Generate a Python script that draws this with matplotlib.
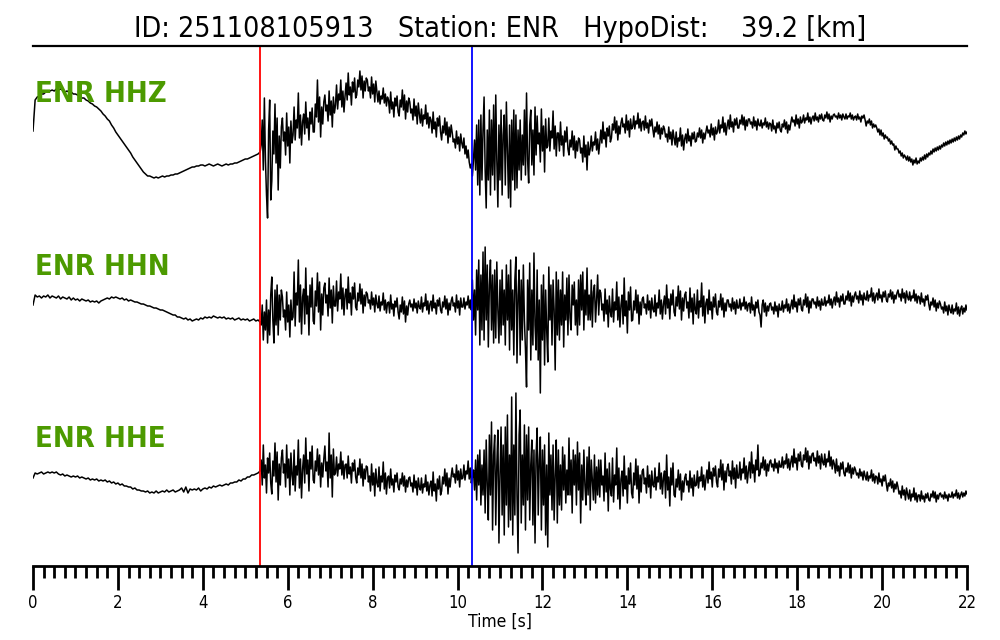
import numpy as np
import matplotlib
matplotlib.use("Agg")
import matplotlib.pyplot as plt
from matplotlib.ticker import MultipleLocator

plt.rcParams["font.family"] = ["DejaVu Sans"]
plt.rcParams["font.stretch"] = "condensed"

# ---------------- data ----------------
event_id = "251108105913"
station = "ENR"
hypo_dist_km = 39.2
channels = ["HHZ", "HHN", "HHE"]
p_pick = 5.35        # P arrival [s]
s_pick = 10.34       # S arrival [s]

# pre-event part: samples every 0.05 s from t = 0
dt_pre = 0.05
# event part: samples every 0.025 s from t = 5.375
t0_post = 5.375
dt_post = 0.025

hhz_pre = [
    9, 40, 43, 44, 46, 46, 48, 48, 49, 50,
    49, 51, 50, 51, 50, 48, 49, 48, 48, 46,
    46, 45, 44, 42, 42, 40, 39, 37, 36, 34,
    33, 31, 29, 26, 24, 21, 19, 15, 12, 8,
    5, 2, -1, -4, -7, -10, -13, -17, -20, -23,
    -26, -29, -32, -34, -36, -36, -37, -38, -37, -38,
    -37, -36, -37, -36, -36, -35, -35, -34, -34, -33,
    -32, -31, -30, -29, -28, -27, -27, -26, -26, -25,
    -25, -26, -25, -24, -25, -26, -25, -24, -25, -26,
    -25, -24, -25, -24, -24, -23, -23, -22, -21, -20,
    -19, -19, -18, -17, -16, -15, -14, -12,
]
hhz_post = [
    -5, 20, -30, 42, -20, -55, -78, 10, 40, -60,
    -41, 9, -14, 36, -23, 22, -50, 4, -28, 13,
    22, -1, 8, -15, 27, -6, 13, -23, 19, -3,
    5, 33, 0, 20, 12, 47, 2, 25, -5, 18,
    26, 6, 38, 12, 22, 0, 28, 16, 32, 8,
    8, 36, 23, 60, 18, 43, 3, 33, 16, 38,
    45, 29, 35, 19, 49, 25, 39, 13, 43, 27,
    35, 55, 31, 46, 40, 60, 33, 49, 28, 44,
    57, 40, 67, 45, 53, 35, 58, 48, 62, 42,
    45, 60, 53, 69, 50, 64, 42, 59, 49, 62,
    60, 49, 53, 42, 63, 46, 56, 38, 59, 48,
    38, 49, 36, 44, 41, 52, 37, 46, 34, 43,
    40, 27, 48, 31, 38, 23, 42, 34, 44, 28,
    24, 40, 33, 50, 30, 45, 21, 39, 28, 42,
    38, 27, 31, 20, 41, 24, 34, 16, 37, 26,
    17, 31, 14, 25, 21, 35, 16, 27, 12, 23,
    20, 7, 28, 11, 18, 3, 22, 14, 24, 8,
    0, 14, 7, 22, 5, 18, -3, 13, 3, 15,
    7, -2, 1, -8, 9, -4, 3, -11, 6, -3,
    -8, 2, -14, -6, -18, -10, -22, -28, -24, -36,
    -20, 0, -30, 15, -45, 20, -55, 25, -40, 10,
    43, -30, -68, 10, -40, 30, -55, 20, -35, 35,
    -50, 45, -20, -67, 15, -40, 30, -55, 5, 25,
    -45, 38, -10, -58, 15, -67, 20, -40, 30, -50,
    25, -48, 10, -30, 20, -40, 5, -25, 30, -35,
    47, -20, -43, 15, 30, -25, 10, -35, 33, -15,
    24, -4, 7, -22, 31, -11, 14, -32, 21, -8,
    -6, 22, -11, 9, 2, 29, -9, 14, -16, 7,
    7, -11, 18, -5, 4, -16, 9, -2, 13, -9,
    -15, 0, -7, 9, -10, 4, -18, -1, -11, 2,
    0, -13, -8, -22, 4, -17, -5, -30, -2, -15,
    -9, 4, -11, -2, -5, 8, -10, 1, -14, -3,
    10, -3, 18, 1, 8, -7, 12, 4, 14, -2,
    2, 16, 10, 23, 7, 19, 0, 14, 6, 17,
    22, 13, 16, 7, 25, 10, 19, 3, 21, 11,
    13, 24, 11, 19, 16, 27, 12, 21, 9, 18,
    19, 10, 24, 12, 17, 7, 20, 14, 21, 11,
    3, 13, 8, 18, 6, 15, 1, 12, 6, 14,
    11, 3, 6, -2, 13, 1, 8, -5, 10, 2,
    -5, 8, -7, 2, -1, 12, -6, 5, -10, 1,
    6, -3, 11, -1, 4, -6, 7, 1, 8, -2,
    -1, 7, 3, 12, 2, 10, -3, 7, 1, 8,
    14, 7, 10, 3, 16, 5, 12, 0, 13, 6,
    9, 20, 7, 15, 12, 23, 8, 17, 5, 14,
    20, 11, 25, 13, 18, 8, 21, 15, 22, 12,
    12, 20, 16, 25, 15, 23, 10, 20, 14, 21,
    21, 16, 18, 12, 23, 14, 19, 10, 21, 15,
    14, 20, 12, 17, 15, 22, 13, 18, 11, 17,
    16, 9, 20, 11, 14, 7, 17, 12, 18, 10,
    8, 16, 13, 20, 11, 18, 7, 15, 10, 17,
    23, 18, 20, 14, 25, 16, 21, 12, 23, 17,
    19, 25, 17, 22, 20, 27, 18, 23, 16, 22,
    24, 19, 27, 20, 23, 18, 25, 21, 26, 20,
    19, 25, 22, 28, 21, 26, 18, 24, 21, 25,
    26, 23, 24, 21, 27, 22, 25, 20, 26, 23,
    21, 26, 21, 24, 23, 27, 21, 25, 20, 23,
    24, 20, 26, 21, 23, 18, 24, 22, 25, 20,
    14, 19, 17, 21, 15, 19, 12, 16, 13, 15,
    12, 8, 11, 5, 10, 4, 7, 1, 5, 2,
    3, -1, 1, -4, -1, -5, -4, -10, -6, -9,
    -9, -13, -11, -16, -13, -18, -15, -17, -20, -16,
    -21, -17, -22, -19, -25, -20, -23, -18, -24, -21,
    -23, -18, -21, -17, -20, -15, -19, -14, -17, -13,
    -15, -11, -14, -9, -12, -8, -11, -7, -10, -6,
    -9, -5, -7, -3, -6, -2, -5, -1, -4, 0,
    -3, 1, -2, 2, -1, 3, 0, 4, 1, 5,
    3, 7, 5, 9, 6, 8,
]

hhn_pre = [
    -5, 5, 3, 4, 2, 4, 3, 5, 2, 4,
    3, 2, 4, 1, 3, 2, 1, 3, 0, 2,
    0, 1, -1, 1, 0, -1, 0, -2, -1, -2,
    -1, -3, -1, 0, 1, 2, 1, 3, 2, 3,
    2, 1, 2, 0, 1, -1, 0, -1, -2, -2,
    -3, -4, -4, -5, -6, -6, -7, -8, -8, -9,
    -10, -10, -11, -12, -13, -14, -15, -15, -17, -17,
    -18, -19, -18, -20, -19, -21, -20, -19, -20, -18,
    -19, -17, -18, -17, -18, -16, -17, -18, -17, -18,
    -17, -19, -18, -19, -18, -20, -19, -18, -20, -19,
    -20, -19, -21, -20, -19, -21, -20, -22,
]
hhn_post = [
    -25, -5, -40, -12, -30, 0, -43, -10, -35, 5,
    23, -20, -43, 10, -25, 15, -35, 5, -20, 10,
    3, -17, -10, -30, 8, -22, -5, -37, 0, -20,
    -17, 28, -26, 7, -5, 40, -22, 15, -34, 3,
    11, -24, 32, -14, 4, -35, 15, -7, 22, -21,
    -24, 9, -6, 27, -12, 18, -30, 6, -15, 12,
    17, -3, 5, -16, 22, -8, 10, -23, 14, -6,
    -6, 19, -11, 8, 1, 26, -9, 12, -15, 5,
    11, -9, 23, -3, 7, -15, 13, 1, 17, -7,
    -10, 7, -1, 16, -4, 11, -13, 5, -6, 8,
    6, -3, 0, -9, 8, -5, 2, -12, 5, -4,
    -8, 4, -11, -2, -5, 7, -10, 0, -13, -3,
    -2, -13, 5, -9, -4, -16, -1, -7, 2, -12,
    -19, -5, -12, 3, -14, -1, -22, -6, -15, -4,
    0, -7, -4, -11, 1, -8, -3, -13, -1, -7,
    -9, 3, -12, -3, -6, 6, -10, -1, -14, -4,
    -1, -11, 5, -8, -3, -14, 0, -6, 2, -10,
    -13, -2, -7, 4, -9, 1, -15, -3, -10, -1,
    3, -6, -3, -12, 5, -8, -1, -15, 2, -7,
    -7, 2, -9, -2, -5, 4, -8, 0, -10, 20,
    -20, 10, -35, 30, -10, 40, -45, 25, -30, 48,
    -40, 53, -20, 35, -47, 15, 40, -30, 25, -43,
    30, -38, 38, -10, -43, 20, -35, 30, -25, 10,
    -45, 35, -20, 25, -50, 40, -30, 10, -55, 20,
    43, -63, 5, 30, -55, 20, -40, 35, -20, -50,
    -87, 20, -30, 37, -60, 10, -45, 47, -25, -50,
    30, -60, 0, -93, 15, -40, 25, -65, 10, -30,
    -62, 33, -20, 15, -45, 20, -10, -70, 28, -35,
    20, -40, 10, -25, 28, -47, 5, -20, 22, -35,
    25, -18, -30, 15, -5, 18, -25, 0, -35, 20,
    -25, 25, -10, 28, -30, 10, -15, 32, -20, 5,
    -20, 20, -27, 8, 15, -22, 0, 25, -15, 10,
    7, -10, -4, -21, 11, -14, 0, -27, 4, -12,
    -17, 11, -22, -2, -10, 18, -20, 3, -27, -5,
    5, -24, 22, -16, -1, -33, 8, -10, 13, -21,
    -20, -1, -10, 10, -13, 5, -24, -2, -15, 1,
    3, -8, -4, -14, 5, -10, -1, -18, 2, -9,
    -12, 5, -16, -3, -8, 10, -14, 0, -19, -4,
    4, -14, 15, -8, 1, -19, 6, -5, 10, -12,
    -16, 3, -6, 14, -9, 9, -20, 2, -11, 5,
    8, -8, -2, -18, 12, -12, 2, -24, 6, -10,
    -14, 10, -18, -1, -7, 17, -16, 4, -23, -3,
    1, -14, 10, -10, -2, -19, 3, -7, 6, -12,
    -15, -1, -7, 6, -10, 2, -17, -3, -11, 0,
    0, -7, -4, -11, 2, -9, -2, -14, 0, -8,
    -8, 1, -10, -3, -6, 3, -9, -2, -11, -4,
    -3, -13, 3, -10, -5, -16, -2, -8, 0, -12,
    -15, -27, -5, 0, -12, -3, -16, -6, -11, -4,
    -3, -10, -7, -14, -2, -11, -6, -17, -4, -10,
    -10, -1, -12, -5, -8, 1, -11, -4, -13, -6,
    0, -9, 5, -7, -2, -12, 1, -5, 2, -9,
    -11, 0, -5, 6, -7, 3, -13, -1, -8, 1,
    1, -4, -2, -8, 3, -6, -1, -10, 1, -5,
    -5, 3, -6, -1, -3, 5, -5, 1, -8, -1,
    3, -5, 8, -2, 2, -7, 4, -1, 6, -4,
    -4, 4, 0, 9, -1, 7, -6, 4, -2, 5,
    8, 1, 4, -3, 9, 0, 5, -5, 7, 1,
    0, 9, -1, 5, 3, 12, -1, 7, -3, 4,
    7, 0, 11, 2, 5, -2, 8, 3, 9, 0,
    -2, 6, 3, 10, 1, 8, -3, 5, 1, 7,
    10, 3, 6, -1, 11, 2, 7, -3, 9, 3,
    0, 8, -1, 4, 2, 10, -1, 6, -3, 4,
    3, -4, 7, -2, 1, -6, 4, 0, 5, -4,
    -10, -2, -5, 2, -7, 0, -11, -3, -8, -1,
    -4, -9, -7, -13, -2, -11, -6, -15, -5, -10,
    -13, -5, -14, -9, -11, -3, -14, -7, -16, -9,
    -6, -14, -8, -12, -5, -10,
]

hhe_pre = [
    -3, 2, 1, 2, 3, 1, 2, 3, 2, 3,
    2, 3, 1, 0, 1, -1, 0, -1, -2, -1,
    -2, -1, -3, -2, -3, -4, -3, -5, -4, -5,
    -4, -6, -5, -6, -5, -7, -6, -8, -7, -9,
    -8, -10, -9, -11, -11, -12, -12, -14, -13, -15,
    -15, -16, -16, -17, -16, -18, -17, -18, -16, -18,
    -17, -16, -17, -15, -17, -16, -15, -17, -16, -15,
    -13, -17, -12, -18, -14, -15, -14, -15, -13, -16,
    -14, -13, -14, -12, -13, -11, -12, -11, -10, -11,
    -10, -9, -10, -8, -8, -7, -7, -5, -6, -4,
    -4, -2, -2, 0, 0, 1, 2, 4,
]
hhe_post = [
    15, -10, 30, -3, 10, -18, 17, 2, 22, -8,
    -19, 14, -1, 32, -7, 23, -25, 11, -10, 17,
    25, 2, 11, -12, 30, -3, 16, -20, 22, 0,
    -10, 25, -16, 9, 0, 35, -13, 16, -23, 6,
    20, -8, 37, 1, 15, -16, 23, 6, 29, -5,
    -8, 14, 4, 26, 0, 20, -12, 12, -2, 16,
    29, 4, 13, -12, 42, -3, 20, -22, 26, 0,
    2, 18, -1, 11, 6, 23, 0, 14, -4, 10,
    11, -3, 19, 1, 8, -8, 12, 4, 15, -2,
    -8, 7, 0, 16, -3, 11, -11, 6, -4, 9,
    8, -7, -1, -16, 11, -10, 2, -21, 6, -8,
    -12, 8, -16, -1, -7, 13, -14, 2, -19, -3,
    -1, -13, 6, -10, -4, -17, 0, -7, 2, -12,
    -15, -4, -9, 2, -11, -1, -17, -5, -12, -3,
    -2, -11, -8, -17, 0, -13, -6, -20, -3, -12,
    -15, -3, -18, -9, -12, 0, -16, -7, -20, -10,
    -6, -21, 3, -16, -9, -26, -4, -14, -1, -20,
    -16, -2, -9, 6, -11, 2, -19, -3, -12, -1,
    7, -2, 1, -8, 10, -5, 4, -12, 6, -4,
    -3, 10, -5, 4, 1, 14, -4, 7, -8, -2,
    5, -15, 15, -25, 20, -10, 25, -30, 10, -20,
    25, -38, 35, -10, -45, 40, -20, 53, -55, 20,
    40, -50, 10, 45, -68, 0, 48, -40, 30, -60,
    48, -30, 60, -52, 20, -45, 78, -60, 30, -40,
    82, -20, -78, 40, 65, -48, 20, -30, 50, -55,
    40, -25, 48, -45, 10, 35, -50, 25, -68, 20,
    47, -40, 15, 38, -55, 25, -30, 30, -60, 10,
    -72, 42, -20, 20, -35, 30, -45, 0, 35, -48,
    25, -30, 10, -35, 28, -15, 20, -28, 5, -20,
    37, -20, 15, -38, 25, -10, 20, -30, 33, -15,
    22, -48, 10, -25, 25, -10, -30, 18, -20, 28,
    -35, 15, -5, -25, 20, -28, 8, -20, 15, -22,
    15, -10, -1, -26, 22, -17, 6, -36, 12, -14,
    -21, 17, -27, 0, -10, 27, -24, 7, -34, -4,
    4, -21, 19, -14, -1, -28, 7, -9, 12, -18,
    -23, 2, -10, 16, -14, 9, -28, 0, -17, 4,
    6, -9, -3, -18, 9, -12, 0, -23, 4, -10,
    -12, 7, -15, -2, -7, 12, -14, 2, -19, -3,
    4, -23, 20, -15, -2, -31, 7, -10, 12, -20,
    -22, -4, -12, 5, -15, 1, -25, -6, -17, -3,
    1, -10, -6, -17, 4, -13, -3, -21, 0, -11,
    -10, 4, -13, -2, -6, 8, -12, 0, -15, -4,
    5, -8, 13, -4, 3, -12, 7, -1, 9, -7,
    -12, 6, -2, 15, -5, 11, -15, 4, -7, 7,
    11, -1, 4, -9, 14, -4, 7, -13, 10, -3,
    -3, 13, -5, 6, 2, 17, -4, 9, -8, 4,
    13, -3, 23, 2, 10, -7, 15, 5, 30, -1,
    1, 12, 7, 18, 5, 15, -1, 11, 4, 13,
    15, 8, 11, 4, 16, 7, 12, 2, 14, 8,
    8, 18, 7, 14, 11, 21, 7, 16, 5, 13,
    19, 8, 26, 12, 17, 5, 21, 14, 23, 10,
    8, 20, 15, 27, 13, 24, 6, 19, 12, 21,
    22, 14, 17, 9, 24, 12, 19, 6, 21, 13,
    10, 21, 8, 16, 13, 24, 9, 18, 6, 15,
    11, 2, 16, 4, 9, -1, 12, 6, 13, 2,
    -1, 7, 3, 12, 2, 10, -3, 7, 1, 8,
    5, 0, 2, -3, 6, -1, 3, -5, 4, -1,
    -5, 3, -6, -1, -3, 5, -6, 1, -8, -1,
    -2, -9, 2, -7, -4, -11, -1, -6, 0, -9,
    -16, -8, -11, -4, -13, -6, -17, -9, -14, -7,
    -12, -19, -16, -23, -11, -20, -15, -25, -13, -19,
    -24, -15, -26, -19, -22, -13, -25, -18, -27, -20,
    -20, -26, -16, -24, -21, -27, -19, -23, -18, -25,
    -26, -19, -22, -16, -23, -17, -27, -20, -24, -19,
    -18, -22, -20, -24, -17, -23, -20, -26, -19, -22,
    -22, -17, -23, -19, -21, -15, -23, -18, -24, -20,
    -17, -22, -18, -21, -16, -19,
]

traces = [(hhz_pre, hhz_post), (hhn_pre, hhn_post), (hhe_pre, hhe_post)]

# ---------------- layout ----------------
W, H = 1000, 640
fig = plt.figure(figsize=(W / 100, H / 100), dpi=100)
ax = fig.add_axes([33 / W, 74 / H, 934 / W, 520 / H])

baselines = [140, 300, 475]          # vertical position of each trace
label_baselines = [102, 275, 447]

for (pre, post), base, ch, lb in zip(traces, baselines, channels, label_baselines):
    pre = np.asarray(pre, dtype=float)
    post = np.asarray(post, dtype=float)
    t = np.concatenate([np.arange(len(pre)) * dt_pre,
                        t0_post + np.arange(len(post)) * dt_post])
    v = np.concatenate([pre, post])
    ax.plot(t, base - v, color="black", lw=1.1)
    ax.text(0.05, lb, f"{station} {ch}", color="#4c9a00", fontsize=21,
            fontweight="bold", ha="left", va="baseline")

ax.axvline(p_pick, color="red", lw=1.3)
ax.axvline(s_pick, color="blue", lw=1.3)

ax.set_xlim(0, 22)
ax.set_ylim(566, 46)

for s in ["left", "right"]:
    ax.spines[s].set_visible(False)
ax.spines["top"].set_linewidth(1.6)
ax.spines["bottom"].set_linewidth(2.0)
ax.set_yticks([])

ax.xaxis.set_major_locator(MultipleLocator(2))
ax.xaxis.set_minor_locator(MultipleLocator(0.25))
ax.tick_params(axis="x", which="major", length=17, width=2.0, direction="out",
               labelsize=12, pad=3.5)
ax.tick_params(axis="x", which="minor", length=8.5, width=2.0, direction="out")
ax.set_xlabel("Time [s]", fontsize=12.5, labelpad=0)

fig.text(0.5, 1 - 37 / H,
         f"ID: {event_id}   Station: {station}   HypoDist: {hypo_dist_km:7.1f} [km]",
         ha="center", va="baseline", fontsize=20.5)

fig.savefig("out.png", dpi=100)
